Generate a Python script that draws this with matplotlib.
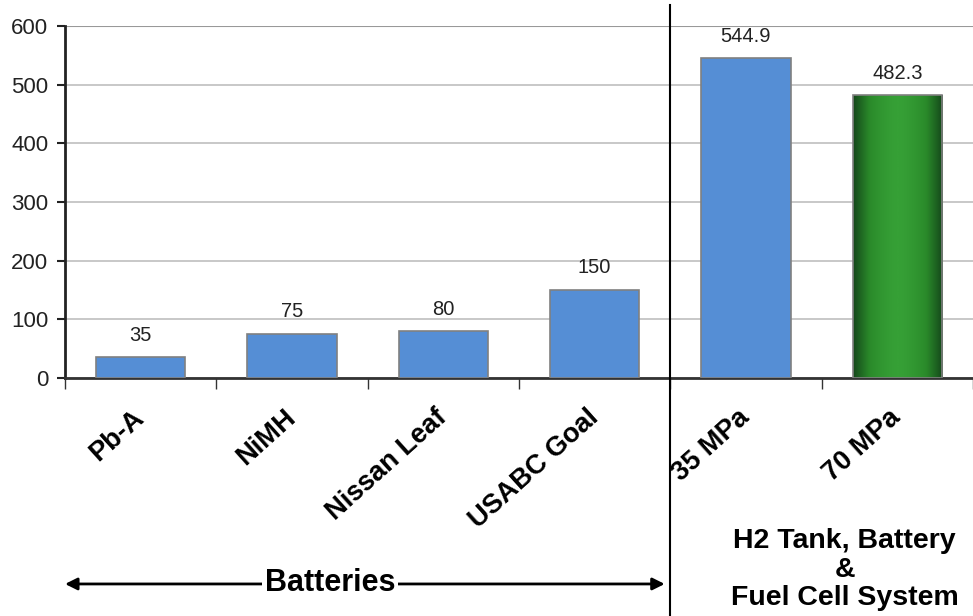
import matplotlib
matplotlib.use('Agg')
from matplotlib import pyplot as plt
import numpy as np

plt.rcParams['font.family'] = ['Liberation Sans', 'DejaVu Sans']

categories = ['Pb-A', 'NiMH', 'Nissan Leaf', 'USABC Goal', '35 MPa', '70 MPa']
values = [35, 75, 80, 150, 544.9, 482.3]
value_labels = ['35', '75', '80', '150', '544.9', '482.3']
yticks = [0, 100, 200, 300, 400, 500, 600]

blue = '#558ed5'
edge = '#808080'

fig = plt.figure(figsize=(9.73, 6.16), dpi=100)
ax = fig.add_axes([0.0668, 0.3864, 0.9332, 0.5714])

x = np.arange(len(categories))
bar_w = 0.59
bars = ax.bar(x[:5], values[:5], width=bar_w, color=blue, edgecolor=edge, linewidth=1.2, zorder=3)

# last bar: cylinder-like green shading
x0 = x[5] - bar_w / 2
grad = np.abs(np.linspace(-1, 1, 200)) ** 1.5
greens = matplotlib.colors.LinearSegmentedColormap.from_list('g', ['#36a036', '#2a8a2a', '#14461a'])
ax.imshow(grad[np.newaxis, :], cmap=greens, aspect='auto', extent=(x0, x0 + bar_w, 0, values[5]), zorder=3)
ax.add_patch(plt.Rectangle((x0, 0), bar_w, values[5], fill=False, edgecolor=edge, linewidth=1.2, zorder=4))

for xi, v, lab in zip(x, values, value_labels):
    ax.annotate(lab, (xi, v), xytext=(0, 9), textcoords='offset points',
                ha='center', va='bottom', fontsize=14.5, color='#222222')

ax.set_xlim(-0.5, 5.5)
ax.set_ylim(0, 600)
ax.set_yticks(yticks)
ax.tick_params(axis='y', labelsize=16, length=6, width=1.5, pad=6, colors='#222222')
ax.yaxis.grid(True, color='#bfbfbf', linewidth=1.2, zorder=0)
ax.set_axisbelow(True)

ax.set_xticks(x)
ax.set_xticklabels(categories, rotation=42, rotation_mode='anchor', ha='right', va='center',
                   fontsize=19.5, fontweight='bold')
ax.tick_params(axis='x', length=0, pad=26)
ax.set_xticks(np.arange(-0.5, 5.6, 1.0), minor=True)
ax.tick_params(axis='x', which='minor', length=8, width=1, color='#333333')

for s in ['top', 'right']:
    ax.spines[s].set_visible(False)
ax.spines['left'].set_linewidth(2)
ax.spines['left'].set_color('#222222')
ax.spines['bottom'].set_linewidth(2)
ax.spines['bottom'].set_color('#333333')
ax.axhline(600, color='#999999', linewidth=1.5, zorder=1)

# divider between battery group and fuel cell group
ax.axvline(3.5, ymin=-0.68, ymax=1.06, color='black', linewidth=1.5, clip_on=False, zorder=5)

# group labels below the axis
fig.text(0.339, 0.053, 'Batteries', ha='center', va='center', fontsize=22, fontweight='bold',
         bbox=dict(facecolor='white', edgecolor='none', pad=2), zorder=3)
fig.add_artist(matplotlib.patches.FancyArrowPatch((0.064, 0.052), (0.686, 0.052),
                                                  arrowstyle='<|-|>', mutation_scale=18,
                                                  linewidth=2, color='black', zorder=2))
fig.text(0.868, 0.008, 'H2 Tank, Battery\n&\nFuel Cell System', ha='center', va='bottom',
         fontsize=20.5, fontweight='bold', linespacing=1.12)

fig.savefig('out.png', dpi=100)
